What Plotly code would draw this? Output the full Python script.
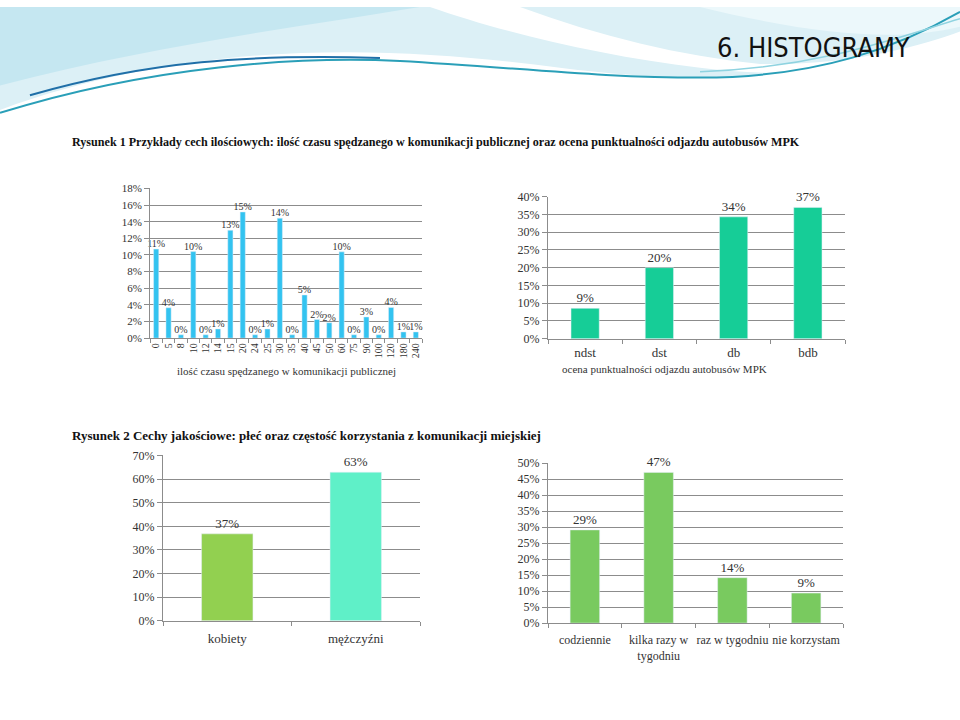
import plotly.graph_objects as go

# ---------------- data ----------------
time_cats = ["0", "5", "8", "10", "12", "14", "15", "20", "24", "25", "30",
             "35", "40", "45", "50", "60", "75", "90", "100", "120", "180", "240"]
time_share = [0.107, 0.0365, 0.004, 0.104, 0.004, 0.011, 0.1297, 0.1517, 0.004,
              0.011, 0.1442, 0.004, 0.0519, 0.0224, 0.0185, 0.1037, 0.004,
              0.0255, 0.004, 0.0369, 0.0075, 0.0075]

punct_cats = ["ndst", "dst", "db", "bdb"]
punct_share = [0.0855, 0.200, 0.3428, 0.3695]

sex_cats = ["kobiety", "mężczyźni"]
sex_share = [0.368, 0.629]

freq_cats = ["codziennie", "kilka razy w<br>tygodniu", "raz w tygodniu", "nie korzystam"]
freq_share = [0.2914, 0.4714, 0.142, 0.094]

title_main = "6. HISTOGRAMY"
caption1 = ("Rysunek 1 Przykłady cech ilościowych: ilość czasu spędzanego w komunikacji "
            "publicznej oraz ocena punktualności odjazdu autobusów MPK")
caption2 = "Rysunek 2 Cechy jakościowe: płeć oraz częstość korzystania z komunikacji miejskiej"
xtitle1 = "ilość czasu spędzanego w komunikacji publicznej"
xtitle2 = "ocena punktualności odjazdu autobusów MPK"

W, H = 960, 720
SERIF = "Liberation Serif, DejaVu Serif, serif"
GRID = "#8c8c8c"
TXT = "#333333"


def px(x):
    return x / W


def py(y):
    return 1 - y / H


def ppath(cmds):
    """convert list of (cmd, [x,y,...]) in pixel coords to paper path"""
    out = []
    for c, pts in cmds:
        s = c
        if pts:
            coords = []
            for i in range(0, len(pts), 2):
                coords.append(f"{px(pts[i]):.4f},{py(pts[i+1]):.4f}")
            s += " " + " ".join(coords)
        out.append(s)
    return " ".join(out)


fig = go.Figure()

common_bar = dict(textposition="outside", texttemplate="%{y:.0%}", cliponaxis=False,
                  constraintext="none", hoverinfo="skip")

fig.add_trace(go.Bar(x=time_cats, y=time_share, marker_color="#33c3f0", width=0.42,
                     textfont=dict(size=10, color=TXT, family=SERIF),
                     xaxis="x", yaxis="y", **common_bar))
fig.add_trace(go.Bar(x=punct_cats, y=punct_share, marker_color="#16cd97", width=0.38,
                     textfont=dict(size=13, color=TXT, family=SERIF),
                     xaxis="x2", yaxis="y2", **common_bar))
fig.add_trace(go.Bar(x=sex_cats, y=sex_share, marker_color=["#92d050", "#5ff0c8"], width=0.40,
                     textfont=dict(size=13, color=TXT, family=SERIF),
                     xaxis="x3", yaxis="y3", **common_bar))
fig.add_trace(go.Bar(x=freq_cats, y=freq_share, marker_color="#79ca5f", width=0.40,
                     textfont=dict(size=13, color=TXT, family=SERIF),
                     xaxis="x4", yaxis="y4", **common_bar))


def xax(domain, anchor, size, cats, angle=0, standoff=0):
    return dict(domain=domain, anchor=anchor, type="category",
                tickmode="array", tickvals=cats,
                showline=True, linecolor=GRID, linewidth=1,
                ticks="outside", tickson="boundaries", ticklen=4, tickcolor=GRID,
                tickfont=dict(size=size, color=TXT, family=SERIF),
                ticklabelstandoff=standoff,
                tickangle=angle, showgrid=False, fixedrange=True)


def yax(domain, anchor, rng, dtick, size):
    return dict(domain=domain, anchor=anchor, range=rng, dtick=dtick,
                tickformat=".0%", showline=True, linecolor=GRID, linewidth=1,
                ticks="outside", ticklen=5, tickcolor=GRID,
                showgrid=True, gridcolor=GRID, gridwidth=1, zeroline=False,
                tickfont=dict(size=size, color=TXT, family=SERIF), fixedrange=True)


fig.update_layout(
    width=W, height=H,
    margin=dict(l=0, r=0, t=0, b=0),
    paper_bgcolor="white", plot_bgcolor="rgba(0,0,0,0)",
    showlegend=False,
    font=dict(family=SERIF, color=TXT),
    xaxis=xax([px(150), px(422)], "y", 10, time_cats, -90),
    yaxis=yax([py(337.7), py(185)], "x", [0, 0.18], 0.02, 11),
    xaxis2=xax([px(548), px(845)], "y2", 13, punct_cats, 0, 2),
    yaxis2=yax([py(338.3), py(193.3)], "x2", [0, 0.40], 0.05, 12),
    xaxis3=xax([px(163), px(420)], "y3", 13, sex_cats, 0, 6),
    yaxis3=yax([py(626), py(457.3)], "x3", [0, 0.70], 0.10, 12),
    xaxis4=xax([px(548), px(843)], "y4", 12, freq_cats, 0, 6),
    yaxis4=yax([py(628.3), py(465.3)], "x4", [0, 0.50], 0.05, 12),
)

# ---------------- background decoration ----------------
shapes = []
shapes.append(dict(type="path", xref="paper", yref="paper", layer="below",
                   path=ppath([("M", [0, 0]), ("L", [960, 0]), ("L", [960, 30]),
                               ("C", [800, 75, 700, 80, 560, 62]),
                               ("C", [400, 40, 200, 30, 0, 105]), ("Z", [])]),
                   fillcolor="#dcf0f6", line=dict(width=0)))
shapes.append(dict(type="path", xref="paper", yref="paper", layer="below",
                   path=ppath([("M", [0, 0]), ("L", [420, 0]),
                               ("C", [300, 20, 150, 40, 0, 80]), ("Z", [])]),
                   fillcolor="#c5e7f1", line=dict(width=0)))
shapes.append(dict(type="path", xref="paper", yref="paper", layer="below",
                   path=ppath([("M", [430, 0]), ("L", [520, 0]),
                               ("C", [600, 30, 680, 50, 760, 58]),
                               ("C", [850, 60, 920, 40, 960, 25]),
                               ("L", [960, 40]),
                               ("C", [880, 70, 780, 72, 700, 62]),
                               ("C", [600, 50, 500, 25, 430, 0]), ("Z", [])]),
                   fillcolor="#ffffff", line=dict(width=0)))
shapes.append(dict(type="path", xref="paper", yref="paper", layer="below",
                   path=ppath([("M", [700, 0]), ("L", [960, 0]), ("L", [960, 20]),
                               ("C", [900, 35, 820, 30, 700, 0]), ("Z", [])]),
                   fillcolor="#ecf8fb", line=dict(width=0)))
shapes.append(dict(type="path", xref="paper", yref="paper", layer="below",
                   path=ppath([("M", [0, 108]), ("C", [150, 60, 300, 50, 400, 55]),
                               ("C", [520, 62, 600, 72, 700, 72]),
                               ("C", [820, 72, 900, 40, 960, 5])]),
                   line=dict(color="#2a9fb8", width=2)))
shapes.append(dict(type="path", xref="paper", yref="paper", layer="below",
                   path=ppath([("M", [30, 90]), ("C", [150, 55, 250, 48, 380, 52])]),
                   line=dict(color="#1f6fa8", width=2)))
shapes.append(dict(type="path", xref="paper", yref="paper", layer="below",
                   path=ppath([("M", [700, 66]), ("C", [820, 62, 900, 30, 960, 12])]),
                   line=dict(color="#8fd3e0", width=1.5)))
fig.update_layout(shapes=shapes)

# ---------------- texts ----------------
ann = [
    dict(text=title_main, x=px(912), y=py(41), xanchor="right", yanchor="middle",
         font=dict(size=27, color="#111111",
                   family="Liberation Sans Narrow, DejaVu Sans Condensed, sans-serif")),
    dict(text="<b>" + caption1 + "</b>", x=px(70), y=py(138), xanchor="left", yanchor="middle",
         font=dict(size=12.1, color="#111111", family=SERIF)),
    dict(text="<b>" + caption2 + "</b>", x=px(70), y=py(437), xanchor="left", yanchor="middle",
         font=dict(size=13, color="#111111", family=SERIF)),
    dict(text=xtitle1, x=px(286), y=py(371), xanchor="center", yanchor="middle",
         font=dict(size=11, color=TXT, family=SERIF)),
    dict(text=xtitle2, x=px(664), y=py(369), xanchor="center", yanchor="middle",
         font=dict(size=11, color=TXT, family=SERIF)),
]
for a in ann:
    a.update(xref="paper", yref="paper", showarrow=False)
fig.update_layout(annotations=ann)

fig.write_html("out.html", config={"displayModeBar": False},
               post_script="document.body.style.margin='0';document.body.style.overflow='hidden';")
